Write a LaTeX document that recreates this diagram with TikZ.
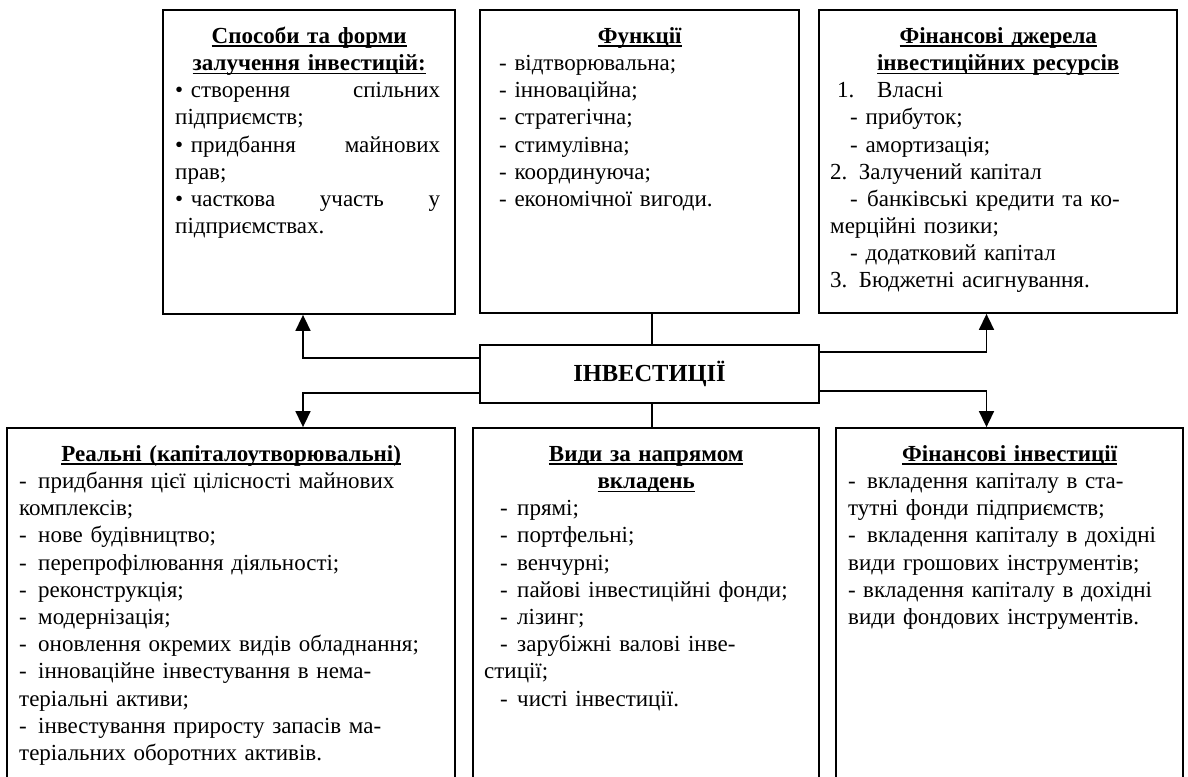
\documentclass[tikz,border=0pt]{standalone}
\usepackage{fontspec}
\setmainfont{Liberation Serif}
\usetikzlibrary{arrows.meta}
\newsavebox\ulbox
\newcommand\ulx[1]{\sbox\ulbox{#1}\rlap{\rule[-4pt]{\wd\ulbox}{1.8pt}}\usebox\ulbox}
\newcommand\dsh[1]{\makebox[#1][l]{-}}
\newcommand\jline[2]{\leavevmode\hbox to #1{#2}}
\begin{document}
\begin{tikzpicture}[x=1pt,y=-1pt,
  box/.style={draw,line width=1.8pt,inner sep=0pt,rectangle},
  txt/.style={anchor=north west,inner sep=0pt,align=left,font=\fontsize{23}{27.2}\selectfont},
  conn/.style={line width=1.6pt},
  arr/.style={conn,-{Triangle[length=16pt,width=15pt]}}]
\useasboundingbox (0,0) rectangle (1188,776);
\begin{scope}
\clip (0,0) rectangle (1188,776);
% boxes
\node[box,minimum width=292pt,minimum height=304pt] (tl) at (309,162) {};
\node[box,minimum width=319pt,minimum height=303pt] (tm) at (639.5,161.5) {};
\node[box,minimum width=358pt,minimum height=303pt] (tr) at (998,161.5) {};
\node[box,minimum width=339pt,minimum height=58pt,font=\fontsize{24.5}{27}\selectfont\bfseries] (inv) at (649.5,374) {ІНВЕСТИЦІЇ};
\node[box,minimum width=448pt,minimum height=372pt] (bl) at (231,614) {};
\node[box,minimum width=346pt,minimum height=372pt] (bm) at (646,614) {};
\node[box,minimum width=347pt,minimum height=372pt] (br) at (1009.5,614) {};
% texts
\node[txt,text width=292pt] (tlt) at (163,21) {\rule{0pt}{22pt}\makebox[292pt]{\ulx{\bfseries Способи та форми}}\\
\makebox[292pt]{\ulx{\bfseries залучення інвестицій:}}\\
\hspace*{12pt}\jline{265pt}{• створення\hfill спільних}\\
\hspace*{12pt}підприємств;\\
\hspace*{12pt}\jline{265pt}{• придбання\hfill майнових}\\
\hspace*{12pt}прав;\\
\hspace*{12pt}\jline{265pt}{• часткова\hfill участь\hfill у}\\
\hspace*{12pt}підприємствах.};
\node[txt,text width=319pt] (tmt) at (480,21) {\rule{0pt}{22pt}\makebox[319pt]{\ulx{\bfseries Функції}}\\
\hspace*{19pt}- відтворювальна;\\
\hspace*{19pt}- інноваційна;\\
\hspace*{19pt}- стратегічна;\\
\hspace*{19pt}- стимулівна;\\
\hspace*{19pt}- координуюча;\\
\hspace*{19pt}- економічної вигоди.};
\node[txt,text width=358pt] (trt) at (819,21) {\rule{0pt}{22pt}\makebox[358pt]{\ulx{\bfseries Фінансові джерела}}\\
\makebox[358pt]{\ulx{\bfseries інвестиційних ресурсів}}\\
\hspace*{18pt}\makebox[40pt][l]{1.}Власні\\
\hspace*{31pt}- прибуток;\\
\hspace*{31pt}- амортизація;\\
\hspace*{11pt}2. Залучений капітал\\
\hspace*{31pt}\dsh{17pt}банківські кредити та ко-\\
\hspace*{11pt}мерційні позики;\\
\hspace*{31pt}- додатковий капітал\\
\hspace*{11pt}3. Бюджетні асигнування.};
\node[txt,text width=448pt] (blt) at (7,439) {\rule{0pt}{22pt}\makebox[448pt]{\ulx{\bfseries Реальні (капіталоутворювальні)}}\\
\hspace*{12pt}\dsh{19pt}придбання цієї цілісності майнових\\
\hspace*{12pt}комплексів;\\
\hspace*{12pt}\dsh{19pt}нове будівництво;\\
\hspace*{12pt}\dsh{19pt}перепрофілювання діяльності;\\
\hspace*{12pt}\dsh{19pt}реконструкція;\\
\hspace*{12pt}\dsh{19pt}модернізація;\\
\hspace*{12pt}\dsh{19pt}оновлення окремих видів обладнання;\\
\hspace*{12pt}\dsh{19pt}інноваційне інвестування в нема-\\
\hspace*{12pt}теріальні активи;\\
\hspace*{12pt}\dsh{19pt}інвестування приросту запасів ма-\\
\hspace*{12pt}теріальних оборотних активів.};
\node[txt,text width=346pt] (bmt) at (473,439) {\rule{0pt}{22pt}\makebox[346pt]{\ulx{\bfseries Види за напрямом}}\\
\makebox[346pt]{\ulx{\bfseries вкладень}}\\
\hspace*{27pt}\dsh{17pt}прямі;\\
\hspace*{27pt}\dsh{17pt}портфельні;\\
\hspace*{27pt}\dsh{17pt}венчурні;\\
\hspace*{27pt}\dsh{17pt}пайові інвестиційні фонди;\\
\hspace*{27pt}\dsh{17pt}лізинг;\\
\hspace*{27pt}\dsh{17pt}зарубіжні валові інве-\\
\hspace*{11pt}стиції;\\
\hspace*{27pt}\dsh{17pt}чисті інвестиції.};
\node[txt,text width=347pt] (brt) at (836,439) {\rule{0pt}{22pt}\makebox[347pt]{\ulx{\bfseries Фінансові інвестиції}}\\
\hspace*{12pt}\dsh{19pt}вкладення капіталу в ста-\\
\hspace*{12pt}тутні фонди підприємств;\\
\hspace*{12pt}\dsh{19pt}вкладення капіталу в дохідні\\
\hspace*{12pt}види грошових інструментів;\\
\hspace*{12pt}\dsh{15pt}вкладення капіталу в дохідні\\
\hspace*{12pt}види фондових інструментів.};
% connectors
\coordinate (lx) at (303,0);
\coordinate (rx) at (986.5,0);
\coordinate (vx) at (652,0);
\draw[arr] ([yshift=-14pt]inv.north west) -| (lx |- tl.south);
\draw[arr] ([yshift=11pt]inv.south west) -| (lx |- bl.north);
\draw[arr] ([yshift=-8pt]inv.north east) -| (rx |- tr.south);
\draw[arr] ([yshift=13pt]inv.south east) -| (rx |- br.north);
\draw[conn] (vx |- tm.south) -- (vx |- inv.north);
\draw[conn] (vx |- inv.south) -- (vx |- bm.north);
\end{scope}
\end{tikzpicture}
\end{document}
